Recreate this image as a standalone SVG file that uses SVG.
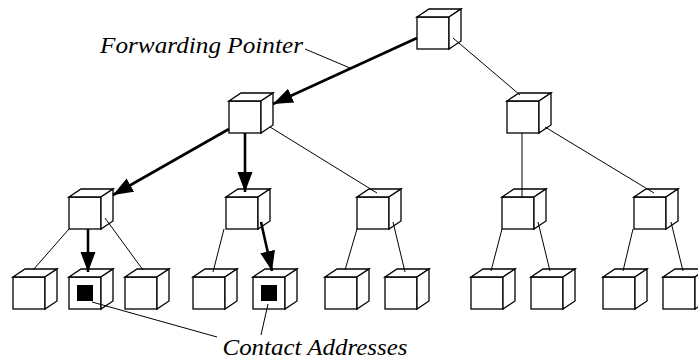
<svg xmlns="http://www.w3.org/2000/svg" width="698" height="361" viewBox="0 0 698 361">
<defs>
<style>
.f{fill:#fff;stroke:#000;stroke-width:1.3;stroke-linejoin:miter}
.t{fill:none;stroke:#000;stroke-width:1}
.k{fill:none;stroke:#000;stroke-width:2.6}
.lbl{font-family:"Liberation Serif","Times New Roman",serif;font-style:italic;font-size:24px;fill:#000}
</style>
<g id="cube">
<rect class="f" x="0" y="0" width="32" height="32"/>
<polygon class="f" points="0,0 12,-8 44,-8 32,0"/>
<polygon class="f" points="32,0 44,-8 44,24 32,32"/>
</g>
<marker id="ah" markerUnits="userSpaceOnUse" markerWidth="21" markerHeight="16" refX="20" refY="7.5" orient="auto" viewBox="0 0 21 16">
<path d="M0,0 L20,7.5 L0,15 z" fill="#000"/>
</marker>
</defs>
<g id="nodes">
<g id="n-root"><use href="#cube" x="417" y="17"/></g>
<g id="n-l2a"><use href="#cube" x="229" y="101"/></g>
<g id="n-l2b"><use href="#cube" x="507" y="101"/></g>
<g id="n-l3a"><use href="#cube" x="69" y="197"/></g>
<g id="n-l3b"><use href="#cube" x="226" y="197"/></g>
<g id="n-l3c"><use href="#cube" x="357" y="197"/></g>
<g id="n-l3d"><use href="#cube" x="502" y="197"/></g>
<g id="n-l3e"><use href="#cube" x="634" y="197"/></g>
<g id="n-l4-1"><use href="#cube" x="13" y="277"/></g>
<g id="n-l4-2"><use href="#cube" x="69" y="277"/><rect x="77" y="285" width="16" height="16" fill="#000"/></g>
<g id="n-l4-3"><use href="#cube" x="125" y="277"/></g>
<g id="n-l4-4"><use href="#cube" x="193" y="277"/></g>
<g id="n-l4-5"><use href="#cube" x="253" y="277"/><rect x="261" y="285" width="16" height="16" fill="#000"/></g>
<g id="n-l4-6"><use href="#cube" x="325" y="277"/></g>
<g id="n-l4-7"><use href="#cube" x="385" y="277"/></g>
<g id="n-l4-8"><use href="#cube" x="471" y="277"/></g>
<g id="n-l4-9"><use href="#cube" x="531" y="277"/></g>
<g id="n-l4-10"><use href="#cube" x="603" y="277"/></g>
<g id="n-l4-11"><use href="#cube" x="663" y="277"/></g>
</g>
<g id="connectors">
<line class="t" x1="453" y1="38" x2="520" y2="95"/>
<line class="t" x1="270" y1="127" x2="377" y2="193"/>
<line class="t" x1="522" y1="133" x2="522" y2="197"/>
<line class="t" x1="545" y1="127" x2="654" y2="193"/>
<line class="t" x1="69" y1="229" x2="33" y2="270"/>
<line class="t" x1="105" y1="218" x2="143" y2="270"/>
<line class="t" x1="224" y1="229" x2="213" y2="272"/>
<line class="t" x1="357" y1="229" x2="345" y2="270"/>
<line class="t" x1="393" y1="222" x2="405" y2="272"/>
<line class="t" x1="502" y1="229" x2="491" y2="271"/>
<line class="t" x1="538" y1="222" x2="550" y2="271"/>
<line class="t" x1="633" y1="229" x2="623" y2="271"/>
<line class="t" x1="671" y1="222" x2="683" y2="271"/>
<line class="k" x1="417" y1="38" x2="273" y2="104" marker-end="url(#ah)"/>
<line class="k" x1="229" y1="129" x2="113" y2="195" marker-end="url(#ah)"/>
<line class="k" x1="245" y1="133" x2="245" y2="192" marker-end="url(#ah)"/>
<line class="k" x1="88" y1="229" x2="88" y2="272" marker-end="url(#ah)"/>
<line class="k" x1="261" y1="222" x2="272" y2="271" marker-end="url(#ah)"/>
<line class="t" x1="305" y1="49" x2="350" y2="68"/>
<line class="t" x1="92" y1="302" x2="217" y2="337"/>
<line class="t" x1="268" y1="304" x2="261" y2="335"/>
</g>
<text class="lbl" x="100" y="53" textLength="203" lengthAdjust="spacingAndGlyphs">Forwarding Pointer</text>
<text class="lbl" x="222.5" y="355" textLength="185" lengthAdjust="spacingAndGlyphs">Contact Addresses</text>
</svg>
